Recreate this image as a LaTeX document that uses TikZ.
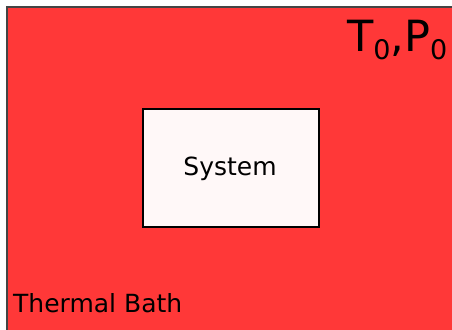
\documentclass[tikz,border=0pt]{standalone}
\usepackage{fontspec}
\setmainfont{DejaVu Sans}
\definecolor{bathred}{HTML}{FF3838}
\definecolor{bathedge}{HTML}{444444}
\definecolor{sysfill}{HTML}{FFF8F8}
\begin{document}
\begin{tikzpicture}[x=1pt,y=-1pt,
  bath/.style={fill=bathred,draw=bathedge,line width=1.5pt},
  sysbox/.style={fill=sysfill,draw=black,line width=1.5pt},
  lbl/.style={inner sep=0pt,font=\fontsize{25}{30}\selectfont}]
\useasboundingbox (0,0) rectangle (452,329);
\path[bath] (7,7) rectangle (460,340);
\node[sysbox,minimum width=176pt,minimum height=118pt,anchor=north west] (sys) at (142,108) {};
\node[lbl,anchor=base] (systxt) at (230,175) {System};
\node[lbl,anchor=base west] (bathtxt) at (13,312) {Thermal Bath};
\node[inner sep=0pt,anchor=base west,font=\fontsize{43}{50}\selectfont] (tp) at (347,52)
  {T\raisebox{-7.5pt}{\fontsize{27}{30}\selectfont 0},P\raisebox{-7.5pt}{\fontsize{27}{30}\selectfont 0}};
\end{tikzpicture}
\end{document}
